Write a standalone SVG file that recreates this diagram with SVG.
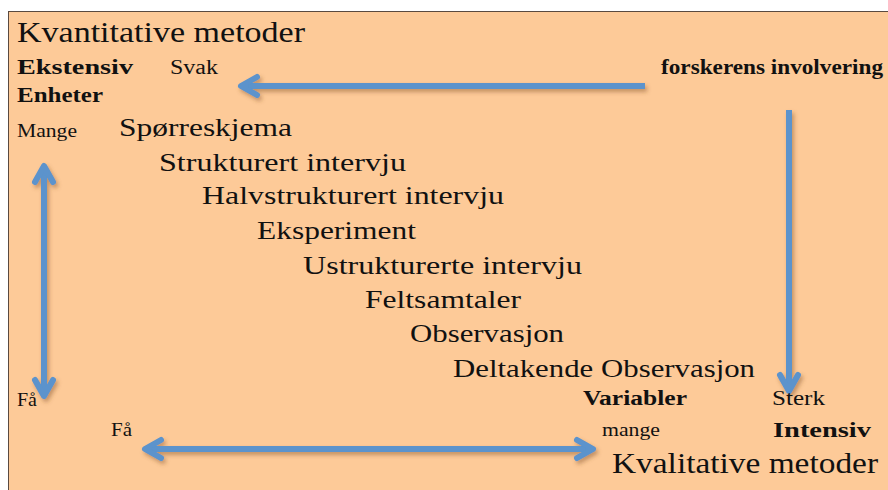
<svg xmlns="http://www.w3.org/2000/svg" width="888" height="490" viewBox="0 0 888 490">
  <defs>
    <filter id="shadow" x="-20%" y="-20%" width="140%" height="140%">
      <feDropShadow dx="2" dy="3" stdDeviation="2" flood-color="#7a4a20" flood-opacity="0.45"/>
    </filter>
    <marker id="head" markerUnits="userSpaceOnUse" markerWidth="40" markerHeight="40" refX="0" refY="0" orient="auto-start-reverse" overflow="visible">
      <path d="M-16,-9 L0,0 L-16,9" fill="none" stroke="#5b93cc" stroke-width="6" stroke-linecap="round" stroke-linejoin="round"/>
    </marker>
    <style>
      .t { font-family: "Liberation Serif", "Times New Roman", serif; fill: #111; }
      .b { font-weight: bold; }
      .conn { fill: none; stroke: #5b93cc; stroke-width: 6; }
    </style>
  </defs>

  <rect x="8.5" y="11.5" width="890" height="490" fill="#fdca98" stroke="#5a4a40" stroke-width="1"/>

  <g id="connectors" filter="url(#shadow)">
    <line class="conn" x1="645" y1="86" x2="241" y2="86" marker-end="url(#head)"/>
    <line class="conn" x1="789" y1="110" x2="789" y2="391" marker-end="url(#head)"/>
    <line class="conn" x1="44" y1="166" x2="44" y2="396" marker-start="url(#head)" marker-end="url(#head)"/>
    <line class="conn" x1="145" y1="449" x2="593" y2="449" marker-start="url(#head)" marker-end="url(#head)"/>
  </g>

  <g id="kvantitative"><text class="t" x="17" y="42" font-size="30" textLength="288" lengthAdjust="spacingAndGlyphs">Kvantitative metoder</text></g>
  <g id="ekstensiv"><text class="t b" x="17" y="74" font-size="20" textLength="116" lengthAdjust="spacingAndGlyphs">Ekstensiv</text></g>
  <g id="svak"><text class="t" x="170" y="74" font-size="20" textLength="48" lengthAdjust="spacingAndGlyphs">Svak</text></g>
  <g id="forskerens"><text class="t b" x="661" y="74" font-size="20" textLength="222" lengthAdjust="spacingAndGlyphs">forskerens involvering</text></g>
  <g id="enheter"><text class="t b" x="17" y="102" font-size="20" textLength="86" lengthAdjust="spacingAndGlyphs">Enheter</text></g>
  <g id="mange-top"><text class="t" x="17" y="137" font-size="18" textLength="60" lengthAdjust="spacingAndGlyphs">Mange</text></g>

  <g id="sporreskjema"><text class="t" x="119" y="136" font-size="26" textLength="173" lengthAdjust="spacingAndGlyphs">Spørreskjema</text></g>
  <g id="strukturert"><text class="t" x="159" y="171" font-size="26" textLength="247" lengthAdjust="spacingAndGlyphs">Strukturert intervju</text></g>
  <g id="halvstrukturert"><text class="t" x="202" y="204" font-size="26" textLength="302" lengthAdjust="spacingAndGlyphs">Halvstrukturert intervju</text></g>
  <g id="eksperiment"><text class="t" x="257" y="239" font-size="26" textLength="159" lengthAdjust="spacingAndGlyphs">Eksperiment</text></g>
  <g id="ustrukturerte"><text class="t" x="303" y="274" font-size="26" textLength="279" lengthAdjust="spacingAndGlyphs">Ustrukturerte intervju</text></g>
  <g id="feltsamtaler"><text class="t" x="365" y="308" font-size="26" textLength="156" lengthAdjust="spacingAndGlyphs">Feltsamtaler</text></g>
  <g id="observasjon"><text class="t" x="410" y="342" font-size="26" textLength="154" lengthAdjust="spacingAndGlyphs">Observasjon</text></g>
  <g id="deltakende"><text class="t" x="453" y="377" font-size="26" textLength="302" lengthAdjust="spacingAndGlyphs">Deltakende Observasjon</text></g>

  <g id="fa-left"><text class="t" x="17" y="406" font-size="18" textLength="20" lengthAdjust="spacingAndGlyphs">Få</text></g>
  <g id="variabler"><text class="t b" x="583" y="405" font-size="20" textLength="104" lengthAdjust="spacingAndGlyphs">Variabler</text></g>
  <g id="sterk"><text class="t" x="772" y="405" font-size="20" textLength="53" lengthAdjust="spacingAndGlyphs">Sterk</text></g>
  <g id="fa-bottom"><text class="t" x="111" y="436" font-size="18" textLength="21" lengthAdjust="spacingAndGlyphs">Få</text></g>
  <g id="mange-bottom"><text class="t" x="602" y="436" font-size="18" textLength="58" lengthAdjust="spacingAndGlyphs">mange</text></g>
  <g id="intensiv"><text class="t b" x="773" y="437" font-size="21" textLength="98" lengthAdjust="spacingAndGlyphs">Intensiv</text></g>
  <g id="kvalitative"><text class="t" x="612" y="473" font-size="29" textLength="266" lengthAdjust="spacingAndGlyphs">Kvalitative metoder</text></g>
</svg>
